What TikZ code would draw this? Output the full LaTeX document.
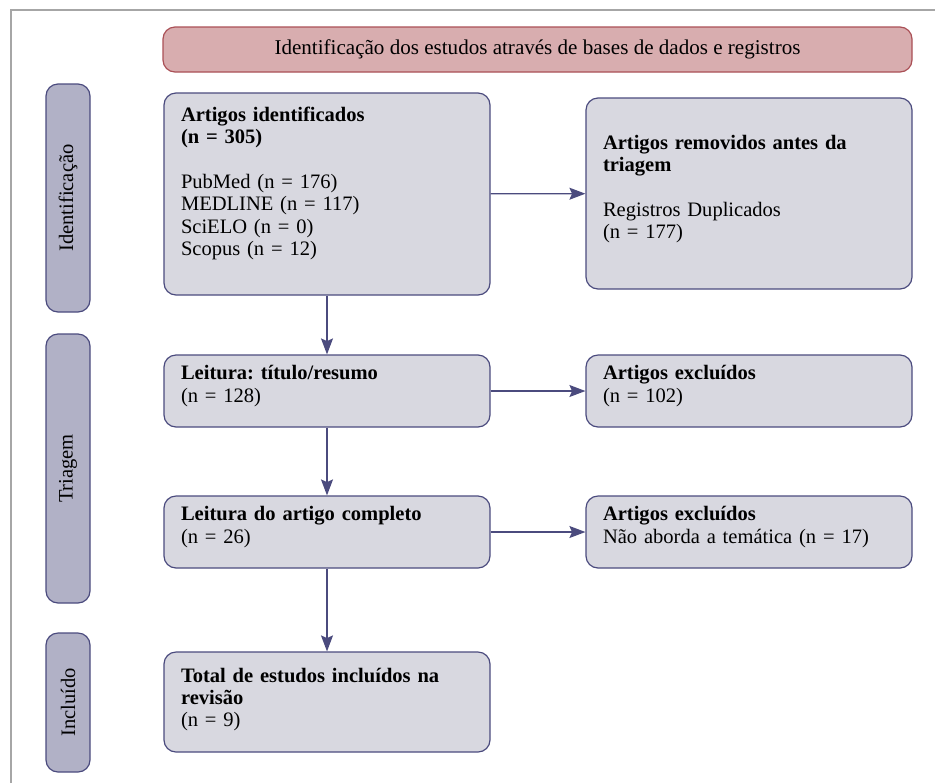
\documentclass[tikz,border=0pt]{standalone}
\usepackage{fontspec}
\setmainfont{Liberation Serif}
\usetikzlibrary{arrows.meta}
\definecolor{boxfill}{HTML}{D8D8E0}
\definecolor{boxline}{HTML}{4B4B7E}
\definecolor{sidefill}{HTML}{B1B1C6}
\definecolor{headfill}{HTML}{D8ADAF}
\definecolor{headline}{HTML}{AA5056}
\definecolor{framegray}{HTML}{A6A6A6}
\newcommand{\boxpad}[1]{\rule[-#1]{0pt}{#1}}
\begin{document}
\begin{tikzpicture}[x=0.75pt,y=-0.75pt]
    \tikzstyle{box}=[draw=boxline, fill=boxfill, line width=0.9pt, rounded corners=9pt,
        minimum width=244.5pt, text width=219pt, align=left, font=\fontsize{15.4}{16.8}\selectfont]
    \tikzstyle{side}=[draw=boxline, fill=sidefill, line width=0.9pt, rounded corners=9pt,
        rotate=90, minimum height=33pt, font=\fontsize{15.4}{16.8}\selectfont]
    \tikzstyle{flow}=[draw=boxline, line width=0.9pt, -{Stealth[length=12pt,width=9pt,inset=2pt]}]
    \useasboundingbox (0,0) rectangle (935,783);
    \draw[framegray, line width=0.9pt] (11,783) -- (11,10) -- (935,10);

    \node[draw=headline, fill=headfill, line width=0.9pt, rounded corners=9pt,
        minimum width=561.75pt, minimum height=33.75pt, font=\fontsize{15.8}{16.8}\selectfont]
        (head) at (537.5,49.5) {Identificação dos estudos através de bases de dados e registros};

    \node[side, minimum width=171pt] (ident) at (68,198) {Identificação};
    \node[side, minimum width=201.75pt] (triag) at (68,468.5) {Triagem};
    \node[side, minimum width=104.25pt] (incl) at (68,702.5) {Incluído};

    \node[box, minimum height=151.5pt] (found) at (327,194) {\textbf{Artigos identificados}\\
        \textbf{(n = 305)}\\[16.8pt]
        PubMed (n = 176)\\
        MEDLINE (n = 117)\\
        SciELO (n = 0)\\
        Scopus (n = 12)\boxpad{19pt}};
    \node[box, minimum height=143.25pt] (removed) at (749,193.5) {\textbf{Artigos removidos antes da}\\
        \textbf{triagem}\\[16.8pt]
        Registros Duplicados\\
        (n = 177)\boxpad{10pt}};
    \node[box, minimum height=54pt] (abstract) at (327,391) {\textbf{Leitura:\ título/resumo}\\
        (n = 128)\boxpad{11pt}};
    \node[box, minimum height=54pt] (excl1) at (749,391) {\textbf{Artigos excluídos}\\
        (n = 102)\boxpad{11pt}};
    \node[box, minimum height=54pt] (fulltext) at (327,532) {\textbf{Leitura do artigo completo}\\
        (n = 26)\boxpad{11pt}};
    \node[box, minimum height=54pt] (excl2) at (749,532) {\textbf{Artigos excluídos}\\
        Não aborda a temática (n = 17)\boxpad{11pt}};
    \node[box, minimum height=75pt] (total) at (327,702) {\textbf{Total de estudos incluídos na}\\
        \textbf{revisão}\\
        (n = 9)\boxpad{7pt}};

    \draw[flow] (found) -- (removed);
    \draw[flow] (abstract) -- (excl1);
    \draw[flow] (fulltext) -- (excl2);
    \draw[flow] (found) -- (abstract);
    \draw[flow] (abstract) -- (fulltext);
    \draw[flow] (fulltext) -- (total);
\end{tikzpicture}
\end{document}
